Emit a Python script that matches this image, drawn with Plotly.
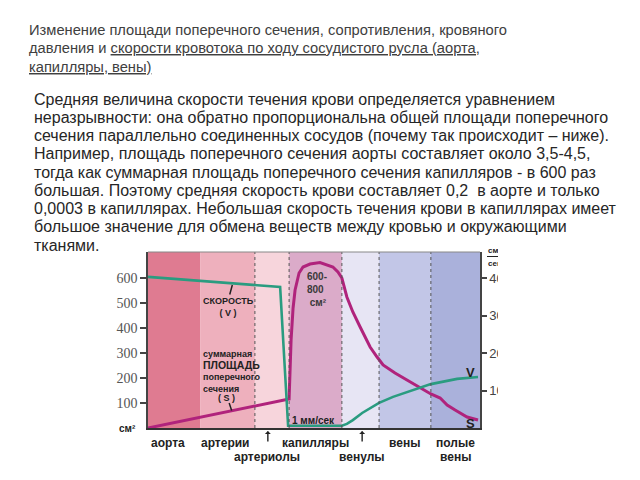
import plotly.graph_objects as go

# ---------------- data ----------------
band_names = ["аорта", "артерии", "артериолы", "капилляры", "венулы", "вены", "полые", "вены"]
label_x = [6.0, 23.2, 35.8, 50.3, 64.5, 77.4, 92.5, 92.5]
label_row = [0, 0, 1, 0, 1, 0, 0, 1]
band_edges = [0, 15.7, 32.2, 42.5, 58.4, 69.6, 85.2, 100]
arrow_x = [36.1, 64.5]

speed_x = [0, 39.8, 42.2, 58.4, 59.9, 61.7, 64.5, 69.6, 73.8, 78.0, 85.2, 93.1, 99.4]
speed_v = [40.3, 37.6, 0.6, 0.6, 1.1, 2.1, 4.0, 6.7, 8.3, 9.6, 11.7, 13.1, 13.6]

area_x = [0, 42.5, 43.1, 43.7, 44.3, 45.5, 46.7, 48.8, 51.8, 55.7, 57.2, 58.4, 59.9, 61.7,
          63.9, 66.9, 69.0, 70.8, 74.4, 78.0, 81.9, 85.2, 88.0, 90.1, 92.5, 96.1, 99.4]
area_s = [0, 116, 352, 480, 552, 620, 644, 656, 662, 644, 624, 600, 524, 464,
          404, 324, 284, 252, 220, 192, 160, 136, 120, 92, 72, 44, 32]

left_ticks = [100, 200, 300, 400, 500, 600]
right_ticks = [10, 20, 30, 40]

title_lines = [
    "Изменение площади поперечного сечения, сопротивления, кровяного",
    "давления и <span style=\"text-decoration:underline\">скорости кровотока по ходу сосудистого русла (аорта,</span>",
    "<span style=\"text-decoration:underline\">капилляры, вены)</span>",
]
para_lines = [
    "Средняя величина скорости течения крови определяется уравнением",
    "неразрывности: она обратно пропорциональна общей площади поперечного",
    "сечения параллельно соединенных сосудов (почему так происходит – ниже).",
    "Например, площадь поперечного сечения аорты составляет около 3,5-4,5,",
    "тогда как суммарная площадь поперечного сечения капилляров - в 600 раз",
    "большая. Поэтому средняя скорость крови составляет 0,2  в аорте и только",
    "0,0003 в капиллярах. Небольшая скорость течения крови в капиллярах имеет",
    "большое значение для обмена веществ между кровью и окружающими",
    "тканями.",
]

# ---------------- styles ----------------
W, H = 640, 480
PL, PR, PT, PB = 148, 480, 252, 428
band_colors = ["#df7b91", "#eeb0bd", "#f7d5dc", "#dbabc9", "#e7e5f4", "#c2c6e7", "#aab1db"]
GREEN = "#2a9c80"
MAGENTA = "#b0237c"
SANS = "Liberation Sans, Arial, sans-serif"
SERIF = "Liberation Serif, Times New Roman, serif"


def py(p):
    return 1 - p / H


def px(p):
    return p / W


fig = go.Figure()

fig.add_trace(go.Scatter(x=area_x, y=area_s, mode="lines",
                         line=dict(color=MAGENTA, width=3), yaxis="y", showlegend=False))
fig.add_trace(go.Scatter(x=speed_x, y=speed_v, mode="lines",
                         line=dict(color=GREEN, width=2.6), yaxis="y2", showlegend=False))

shapes = []
for i in range(len(band_edges) - 1):
    shapes.append(dict(type="rect", xref="x", yref="paper", x0=band_edges[i], x1=band_edges[i + 1],
                       y0=py(PB), y1=py(PT), fillcolor=band_colors[i], line=dict(width=0), layer="below"))
for e in band_edges[2:-1]:
    shapes.append(dict(type="line", xref="x", yref="paper", x0=e, x1=e, y0=py(PB), y1=py(PT),
                       line=dict(color="#555", width=1, dash="3px,3px"), layer="above"))
shapes.append(dict(type="line", xref="x", yref="paper", x0=0, x1=100, y0=py(PT), y1=py(PT),
                   line=dict(color="#888", width=1)))
# fraction bar of "см/сек"
shapes.append(dict(type="line", xref="paper", yref="paper", x0=px(487), x1=px(500),
                   y0=py(256.5), y1=py(256.5), line=dict(color="#222", width=1)))

ann = []
for i, t in enumerate(title_lines):
    ann.append(dict(text=t, xref="paper", yref="paper", x=px(27), y=py(30 + 18.3 * i),
                    xanchor="left", yanchor="middle", showarrow=False,
                    font=dict(family=SANS, size=14.7, color="#404040")))
para_y = [99, 117.5, 135.7, 153.8, 172, 190.2, 208.3, 226.4, 245.7]
for t, yy in zip(para_lines, para_y):
    ann.append(dict(text=t, xref="paper", yref="paper", x=px(32), y=py(yy),
                    xanchor="left", yanchor="middle", showarrow=False,
                    font=dict(family=SANS, size=16, color="#262626")))

# category labels under the chart
for name, lx, row in zip(band_names, label_x, label_row):
    yy = 443 if row == 0 else 457
    ann.append(dict(text="<b>" + name + "</b>", xref="x", yref="paper", x=lx, y=py(yy),
                    xanchor="center", yanchor="middle",
                    showarrow=False, font=dict(family=SANS, size=12, color="#222")))
for ax_ in arrow_x:
    ann.append(dict(text="", xref="x", yref="paper", x=ax_, y=py(431), ax=0, ay=12,
                    showarrow=True, arrowhead=1, arrowsize=0.7, arrowwidth=1.4, arrowcolor="#222"))

# labels inside chart
inner = dict(family=SANS, color="#222")
ann += [
    dict(text="<b>СКОРОСТЬ<br>( V )</b>", xref="x", yref="y", x=24.1, y=(428 - 307) * 4, showarrow=False,
         font=dict(size=9, **inner), align="center"),
    dict(text="", xref="x", yref="y", x=25.4, y=572, ax=-3, ay=11, showarrow=True,
         arrowhead=0, arrowwidth=1.5, arrowcolor="#222"),
    dict(text="<b>суммарная<br><span style=\"font-size:10.5px\">ПЛОЩАДЬ</span><br>поперечного<br>сечения</b>",
         xref="x", yref="y", x=15.9, y=(428 - 371) * 4, xanchor="left", yanchor="middle",
         showarrow=False, align="left", font=dict(size=9, **inner)),
    dict(text="<b>( S )</b>", xref="x", yref="y", x=23.5, y=(428 - 397.5) * 4, showarrow=False,
         font=dict(size=9, **inner)),
    dict(text="", xref="x", yref="y", x=25.2, y=70, ax=-3, ay=-9, showarrow=True,
         arrowhead=0, arrowwidth=1.5, arrowcolor="#222"),
    dict(text="<b>600-<br>800<br>&nbsp;см²</b>", xref="x", yref="y", x=47.4, y=(428 - 289.5) * 4,
         xanchor="left", yanchor="middle", showarrow=False, align="left",
         font=dict(size=10, family=SANS, color="#3a3a3a")),
    dict(text="<b>1 мм/сек</b>", xref="x", yref="y", x=42.9, y=(428 - 420) * 4,
         xanchor="left", yanchor="middle", showarrow=False, font=dict(size=10, **inner)),
    dict(text="<b>V</b>", xref="x", yref="y", x=97.0, y=(428 - 372) * 4, showarrow=False,
         font=dict(size=13, **inner)),
    dict(text="<b>S</b>", xref="x", yref="y", x=97.0, y=(428 - 423) * 4, showarrow=False,
         font=dict(size=13, **inner)),
    dict(text="<b>см²</b>", xref="paper", yref="paper", x=px(138), y=py(428),
         xanchor="right", yanchor="middle", showarrow=False, font=dict(size=10, **inner)),
    dict(text="<b>см</b>", xref="paper", yref="paper", x=px(486), y=py(250.5),
         xanchor="left", yanchor="middle", showarrow=False, font=dict(size=8, **inner)),
    dict(text="<b>сек</b>", xref="paper", yref="paper", x=px(486), y=py(263),
         xanchor="left", yanchor="middle", showarrow=False, font=dict(size=8, **inner)),
    # cropped right edge of the embedded picture
    dict(text=" ", xref="paper", yref="paper", x=px(498), y=py(244), xanchor="left", yanchor="top",
         width=W - 498, height=PB - 244 + 10, bgcolor="white", showarrow=False,
         borderpad=0, borderwidth=0),
]

fig.update_layout(
    width=W, height=H, margin=dict(l=0, r=0, t=0, b=0),
    paper_bgcolor="white", plot_bgcolor="white",
    xaxis=dict(domain=[px(PL), px(PR)], range=[0, 100], showticklabels=False, ticks="",
               showgrid=False, zeroline=False, showline=True, linecolor="#333", linewidth=2),
    yaxis=dict(domain=[py(PB), py(PT)], range=[0, (PB - PT) * 4], tickvals=left_ticks,
               ticks="outside", ticklen=6, tickwidth=1.5, tickcolor="#444",
               showline=True, linecolor="#444", linewidth=1.5, showgrid=False, zeroline=False,
               tickfont=dict(family=SERIF, size=14, color="#555")),
    yaxis2=dict(overlaying="y", side="right", range=[0, (PB - PT) / 3.75], tickvals=right_ticks,
                ticks="outside", ticklen=5, tickwidth=1.5, tickcolor="#444",
                showline=True, linecolor="#444", linewidth=1.5, showgrid=False, zeroline=False,
                tickfont=dict(family=SANS, size=13, color="#444")),
    shapes=shapes, annotations=ann,
)

fig.write_html("out.html")
